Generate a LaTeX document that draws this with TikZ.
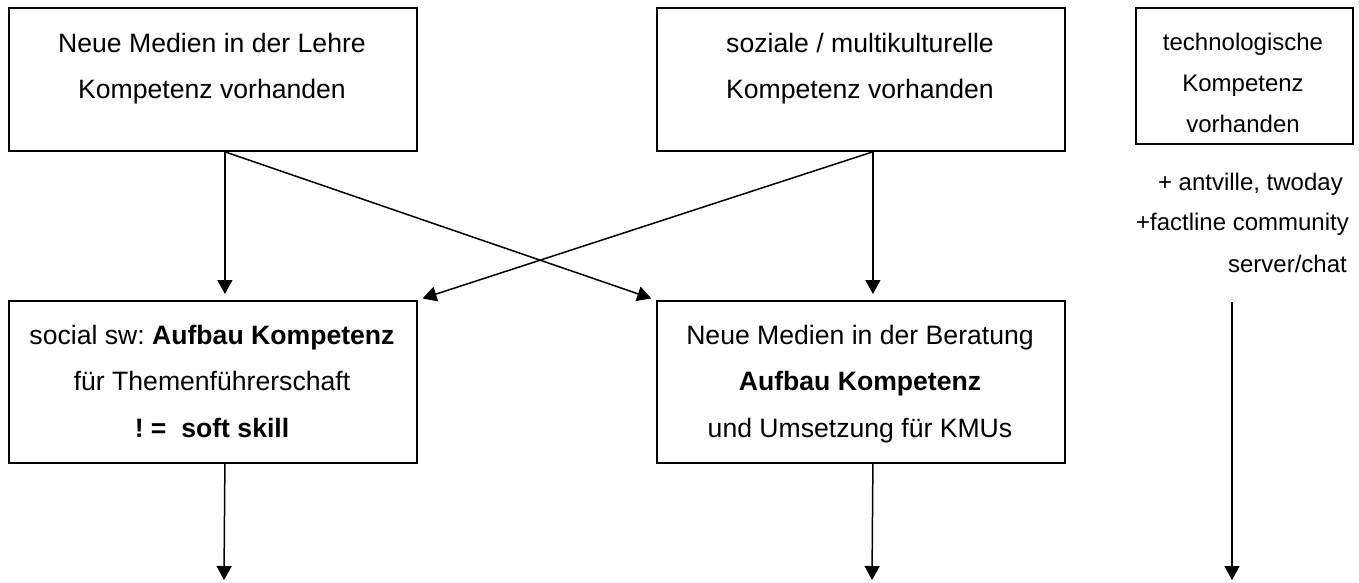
\documentclass[tikz,border=0pt]{standalone}
\usepackage{fontspec}
\setmainfont{Liberation Sans}
\usetikzlibrary{arrows.meta,calc}
\begin{document}
\begin{tikzpicture}[x=1pt,y=-1pt,
  box/.style={draw,line width=1.8pt,inner sep=0pt,anchor=north west},
  conn/.style={line width=1.5pt,-{Triangle[width=15pt,length=14pt]}},
  big/.style={font=\fontsize{26.6}{30}\selectfont,anchor=base,inner sep=0pt},
  small/.style={font=\fontsize{24}{28}\selectfont,anchor=base,inner sep=0pt},
  side/.style={font=\fontsize{24}{28}\selectfont,anchor=base east,inner sep=0pt}]
\useasboundingbox (0,0) rectangle (1359,582);
% boxes
\node[box,minimum width=408pt,minimum height=143pt] (A) at (8,7) {};
\node[box,minimum width=408pt,minimum height=143pt] (B) at (656,7) {};
\node[box,minimum width=217pt,minimum height=136pt] (C) at (1135,7) {};
\node[box,minimum width=408pt,minimum height=162pt] (D) at (8,300) {};
\node[box,minimum width=408pt,minimum height=162pt] (E) at (656,300) {};
% texts
\node[big] (a1) at (212,52) {Neue Medien in der Lehre};
\node[big] (a2) at (212,98) {Kompetenz vorhanden};
\node[big] (b1) at (860,52) {soziale / multikulturelle};
\node[big] (b2) at (860,98) {Kompetenz vorhanden};
\node[small] (c1) at (1243,50) {technologische};
\node[small] (c2) at (1243,91) {Kompetenz};
\node[small] (c3) at (1243,132) {vorhanden};
\node[side] (s1) at (1343,190) {+ antville, twoday};
\node[side] (s2) at (1349,230) {+factline community};
\node[side] (s3) at (1347,272) {server/chat};
\node[big] (d1) at (212,344) {social sw:~\textbf{Aufbau Kompetenz}};
\node[big] (d2) at (212,390) {für Themenführerschaft};
\node[big] (d3) at (212,437) {\textbf{!\ =\ \ soft skill}};
\node[big] (e1) at (860,344) {Neue Medien in der Beratung};
\node[big] (e2) at (860,390) {\textbf{Aufbau Kompetenz}};
\node[big] (e3) at (860,437) {und Umsetzung für KMUs};
% free ends
\coordinate (dEnd) at (224,580);
\coordinate (eEnd) at (872,580);
\coordinate (tStart) at (1232,302);
\coordinate (tEnd) at (1232,580);
% connectors
\draw[conn,shorten >=6pt] ($(A.south)+(12,0)$) -- ($(D.north)+(12,0)$);
\draw[conn,shorten >=6pt] ($(B.south)+(12,0)$) -- ($(E.north)+(12,0)$);
\draw[conn,shorten >=5pt] ($(A.south)+(12,0)$) -- (E.north west);
\draw[conn,shorten >=5pt] ($(B.south)+(12,0)$) -- (D.north east);
\draw[conn] ($(D.south)+(12,0)$) -- (dEnd);
\draw[conn] ($(E.south)+(12,0)$) -- (eEnd);
\draw[conn] (tStart) -- (tEnd);
\end{tikzpicture}
\end{document}
